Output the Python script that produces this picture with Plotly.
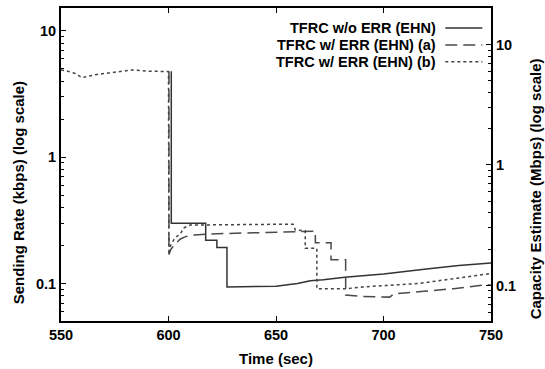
import plotly.graph_objects as go

# ---- data ----
t_solid = [601.3, 601.3, 617.3, 617.3, 622.5, 622.5, 627.2, 627.2, 650, 660, 666, 672, 682, 700, 720, 735, 750]
v_solid = [4.8, 0.30, 0.30, 0.22, 0.22, 0.193, 0.193, 0.094, 0.095, 0.10, 0.105, 0.107, 0.112, 0.119, 0.13, 0.139, 0.145]

t_dash = [600.2, 600.2, 601, 603, 605.5, 608, 612, 620, 640, 655, 668.3, 668.3, 675.6, 675.6, 682.4, 682.4, 690, 702.9, 705, 720, 732.6, 748, 750]
v_dash = [4.76, 0.17, 0.185, 0.205, 0.225, 0.235, 0.242, 0.247, 0.252, 0.257, 0.26, 0.21, 0.21, 0.154, 0.154, 0.081, 0.079, 0.078, 0.083, 0.087, 0.091, 0.098, 0.097]

t_dot = [550, 552, 556.6, 559.8, 566, 572, 578.4, 583, 590.6, 600, 600.2, 601, 603, 605.5, 607, 610, 658, 659, 663.6, 663.6, 669, 669, 683, 690.6, 716.5, 735, 747.5, 750]
v_dot = [4.9, 4.85, 4.6, 4.26, 4.5, 4.65, 4.8, 4.9, 4.8, 4.76, 0.17, 0.2, 0.23, 0.246, 0.275, 0.29, 0.295, 0.265, 0.262, 0.19, 0.19, 0.091, 0.091, 0.094, 0.10, 0.111, 0.119, 0.12]

names = ["TFRC w/o ERR (EHN)", "TFRC w/ ERR (EHN) (a)", "TFRC w/ ERR (EHN) (b)"]
x_title = "Time (sec)"
y_title = "Sending Rate (kbps) (log scale)"
y2_title = "Capacity Estimate (Mbps) (log scale)"
x_ticks = [550, 600, 650, 700, 750]
y_ticks = [0.1, 1, 10]
y_ticktext = ["0.1", "1", "10"]
minor_vals = [m * d for d in (0.01, 0.1, 1, 10) for m in range(2, 10)]

FONT = dict(family="Liberation Sans, Arial, sans-serif", size=14.5, color="black", weight="bold")
TFONT = dict(family="Liberation Sans, Arial, sans-serif", size=15, color="black", weight="bold")
dashes = ["solid", "12px,6px", "3px,3px"]
colors = ["#333333", "#4a4a4a", "#444444"]

fig = go.Figure()
for tx, vy, nm, ds, c in zip([t_solid, t_dash, t_dot], [v_solid, v_dash, v_dot], names, dashes, colors):
    fig.add_trace(go.Scatter(x=tx, y=vy, mode="lines", name=nm, showlegend=False,
                             line=dict(color=c, width=1.5, dash=ds)))
# invisible trace to activate the right axis
fig.add_trace(go.Scatter(x=[600], y=[1], yaxis="y2", mode="lines", opacity=0,
                         showlegend=False, hoverinfo="skip"))

W0, W = 60.7, 430.0
H0, H = 320.7, 314.7


def px(xp):
    return (xp - W0) / W


def py(yp):
    return (H0 - yp) / H


# legend drawn as text + sample lines (sample on the right of the text)
rows = [26, 43.3, 60]
for nm, ds, c, ry in zip(names, dashes, colors, rows):
    fig.add_annotation(x=px(438), y=py(ry), xref="paper", yref="paper", text=nm,
                       showarrow=False, xanchor="right", yanchor="middle", font=FONT)
    fig.add_shape(type="line", xref="paper", yref="paper", x0=px(445), x1=px(482),
                  y0=py(ry), y1=py(ry), line=dict(color=c, width=1.5, dash=ds))

# axis titles
fig.add_annotation(x=px(276), y=py(358), xref="paper", yref="paper", text=x_title,
                   showarrow=False, xanchor="center", yanchor="middle", font=TFONT)
fig.add_annotation(x=px(19), y=py(192), xref="paper", yref="paper", text=y_title, textangle=-90,
                   showarrow=False, xanchor="center", yanchor="middle", font=TFONT)
fig.add_annotation(x=px(535), y=py(188), xref="paper", yref="paper", text=y2_title, textangle=-90,
                   showarrow=False, xanchor="center", yanchor="middle", font=TFONT)

axis_common = dict(showline=True, linecolor="black", linewidth=2, ticks="inside",
                   tickcolor="black", showgrid=False, zeroline=False, tickfont=FONT)

fig.update_layout(
    width=545, height=369,
    margin=dict(l=61, r=54, t=6, b=48),
    plot_bgcolor="white", paper_bgcolor="white",
    font=FONT,
    xaxis=dict(range=[550, 750], tickvals=x_ticks, ticklen=5, tickwidth=1, mirror="ticks",
               **axis_common),
    yaxis=dict(type="log", range=[-1.297, 1.181], tickvals=y_ticks, ticktext=y_ticktext,
               ticklen=5, tickwidth=1,
               minor=dict(ticks="inside", tickvals=minor_vals, ticklen=3, tickcolor="black"),
               **axis_common),
    yaxis2=dict(type="log", range=[-1.295, 1.303], overlaying="y", side="right",
                tickvals=y_ticks, ticktext=y_ticktext, ticklen=5, tickwidth=1,
                minor=dict(ticks="inside", tickvals=minor_vals, ticklen=3, tickcolor="black"),
                **axis_common),
)

fig.write_html("out.html")
